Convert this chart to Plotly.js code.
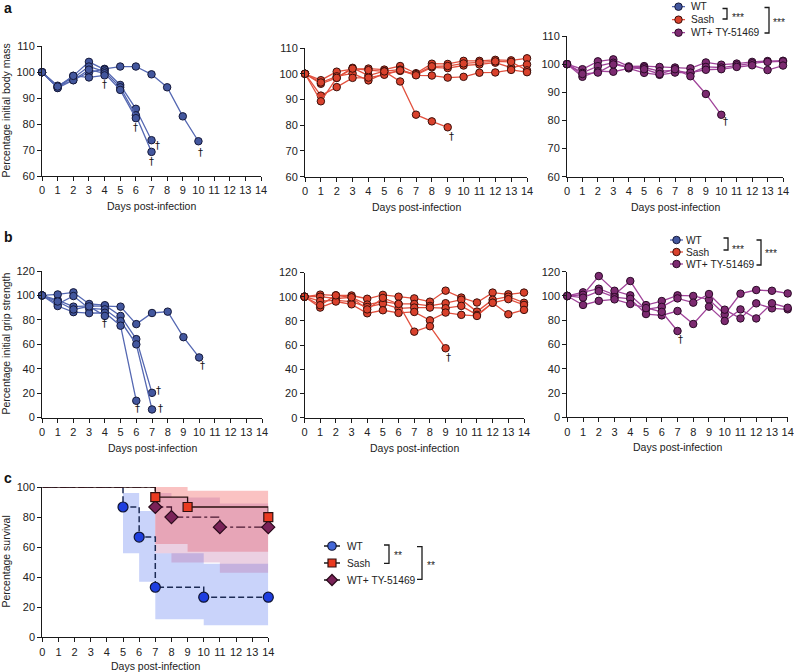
<!DOCTYPE html>
<html><head><meta charset="utf-8">
<script src="https://cdn.plot.ly/plotly-3.0.1.min.js"></script>
<style>html,body{margin:0;padding:0;background:#fff}#chart{width:794px;height:672px}</style>
</head><body><div id="chart"></div>
<script>
// ---------------- DATA ----------------
const days = [0,1,2,3,4,5,6,7,8,9,10,11,12,13,14];
const groupNames = ['WT', 'Sash', 'WT+ TY-51469'];

// a: percentage initial body mass (one array per mouse)
const massWT = [
  [100, 94.5, 97.0, 99.9, 101.3, 102.2, 102.2, 99.2, 94.2, 83.0, 73.4],
  [100, 94.0, 98.6, 104.0, 101.0, 95.1, 85.9, 73.8],
  [100, 94.8, 97.8, 102.2, 100.3, 94.2, 83.4, 69.3],
  [100, 93.9, 96.9, 101.0, 99.6, 93.2, 82.3],
  [100, 94.5, 98.6, 98.0, 98.8]
];
const massSash = [
  [100, 97.5, 100.8, 101.8, 102.0, 101.6, 103.0, 100.2, 103.9, 103.8, 105.0, 105.0, 105.4, 105.2, 106.0],
  [100, 96.1, 98.4, 102.3, 99.3, 101.0, 101.6, 99.6, 102.5, 102.2, 103.2, 103.6, 104.3, 102.4, 103.6],
  [100, 96.6, 99.0, 100.1, 97.4, 100.1, 101.1, 99.9, 102.9, 103.0, 104.0, 104.4, 104.8, 104.6, 101.3],
  [100, 91.5, 94.8, 98.4, 98.5, 99.6, 101.3, 99.4, 99.3, 98.5, 98.8, 100.4, 100.5, 101.5, 100.6],
  [100, 89.3, 98.4, 102.0, 101.4, 100.9, 97.0, 84.1, 81.5, 79.2]
];
const massTY = [
  [100, 98.2, 101.0, 101.7, 99.2, 99.3, 99.0, 98.8, 98.5, 100.6, 99.8, 100.2, 100.8, 101.1, 101.2],
  [100, 96.9, 99.3, 100.5, 98.7, 98.8, 97.5, 97.8, 96.8, 99.0, 98.8, 99.6, 100.3, 100.8, 101.0],
  [100, 95.5, 97.5, 97.3, 98.5, 96.9, 96.2, 97.0, 97.0, 98.0, 98.2, 99.0, 99.6, 97.9, 99.5],
  [100, 96.5, 97.0, 99.9, 98.9, 98.2, 96.5, 98.2, 95.7, 89.4, 82.0]
];

// b: percentage initial grip strength
const gripWT = [
  [100, 96.2, 90.8, 91.5, 91.3, 90.8, 76.5, 85.6, 86.7, 65.8, 49.2],
  [100, 100.8, 102.5, 93.0, 92.0, 83.2, 64.2, 20.2],
  [100, 93.0, 99.5, 89.3, 88.6, 79.0, 59.9, 6.6],
  [100, 91.3, 86.3, 85.5, 85.8, 75.2, 13.7],
  [100, 95.0, 88.5, 91.0, 83.2]
];
const gripSash = [
  [100, 101.7, 101.1, 101.0, 98.3, 101.5, 100.0, 98.6, 95.9, 105.0, 99.3, 95.2, 103.4, 102.0, 103.4],
  [100, 100.0, 98.5, 99.5, 93.5, 96.0, 94.0, 94.0, 92.4, 94.6, 97.5, 87.7, 97.5, 100.0, 95.0],
  [100, 96.4, 97.0, 95.9, 91.5, 94.3, 90.3, 91.0, 91.0, 90.5, 92.4, 85.0, 95.0, 98.0, 93.2],
  [100, 91.0, 96.0, 93.7, 86.3, 88.8, 86.6, 87.4, 80.5, 86.9, 85.0, 84.1, 95.0, 85.5, 89.1],
  [100, 93.0, 101.1, 99.5, 89.5, 99.0, 94.0, 71.1, 75.6, 57.4]
];
const gripTY = [
  [100, 103.0, 106.0, 101.0, 112.3, 92.5, 95.8, 100.5, 100.0, 97.0, 84.8, 101.9, 104.9, 104.3, 102.1],
  [100, 101.0, 116.4, 104.3, 100.5, 89.0, 91.0, 98.0, 94.5, 101.6, 88.7, 81.5, 93.9, 89.8, 89.0],
  [100, 98.6, 104.0, 99.0, 97.7, 85.1, 84.0, 87.6, 76.9, 91.2, 79.4, 88.9, 81.5, 94.0, 90.3],
  [100, 92.6, 96.0, 97.2, 93.4, 90.0, 86.9, 71.1]
];

// death markers (day, value) per panel
const deathsMassWT = [[4, 95.3], [6, 78.6], [7.4, 71.6], [7, 65.6], [10.15, 69.2]];
const deathsMassSash = [[9.26, 75.6]];
const deathsMassTY = [[10.3, 79.6]];
const deathsGripWT = [[4.0, 77.1], [6.1, 7.4], [7.43, 22.4], [7.54, 7.4], [10.2, 42.4]];
const deathsGripSash = [[9.2, 49.9]];
const deathsGripTY = [[7.2, 64.5]];

// c: Kaplan-Meier survival
const kmDaysWT = [0, 5, 6, 7, 10, 14];
const kmWT = [100, 86.7, 66.7, 33.3, 26.7, 26.7];
const kmDaysSash = [0, 7, 9, 14];
const kmSash = [100, 93.3, 86.7, 80.0];
const kmDaysTY = [0, 7, 8, 11, 14];
const kmTY = [100, 86.7, 80.0, 73.3, 73.3];
// 95% confidence bands
const ciDaysWT = [5, 6, 7, 10, 14];
const ciUpWT = [96, 84, 56, 49, 49];
const ciLoWT = [56, 37, 12, 8, 8];
const ciDaysSash = [7, 9, 14];
const ciUpSash = [100, 97.5, 97.5];
const ciLoSash = [62, 57, 57];
const ciDaysTY = [7, 8, 11, 14];
const ciUpTY = [96, 93, 89, 89];
const ciLoTY = [56, 49.7, 43, 43];

// ---------------- LAYOUT HELPERS ----------------
const W = 794, H = 672;
const FONT = 'Liberation Sans, Arial, Helvetica, sans-serif';
const px = v => v / W;
const py = v => 1 - v / H;

const common = {
  showline: true, linecolor: '#1a1a1a', linewidth: 1,
  ticks: 'outside', ticklen: 4, tickwidth: 1, tickcolor: '#1a1a1a',
  showgrid: false, zeroline: false, fixedrange: true,
  tickfont: {family: FONT, size: 11, color: '#222'}
};
function xa(l, r, anchor) {
  return Object.assign({}, common, {domain: [px(l), px(r)], range: [0, 14], dtick: 1, tick0: 0, anchor: anchor});
}
function ya(t, b, range, dtick, anchor) {
  return Object.assign({}, common, {domain: [py(b), py(t)], range: range, dtick: dtick, tick0: 0, anchor: anchor});
}
function hidden(domain, range, anchor) {
  return {domain: domain, range: range, visible: false, fixedrange: true, anchor: anchor};
}

const colors = {
  WT:   {line: '#5568b2', fill: '#43579e', edge: '#15193a'},
  Sash: {line: '#e2513f', fill: '#d9412c', edge: '#3a0f0a'},
  TY:   {line: '#a0449a', fill: '#7c2a70', edge: '#2a0a26'}
};

const panels = [
  {xa: 'x',  ya: 'y',  l: 42,    r: 261,   t: 46.3,  b: 176,   range: [60, 110], dtick: 10, data: massWT,   c: colors.WT,   deaths: deathsMassWT},
  {xa: 'x2', ya: 'y2', l: 305,   r: 527,   t: 48,    b: 176.7, range: [60, 110], dtick: 10, data: massSash, c: colors.Sash, deaths: deathsMassSash},
  {xa: 'x3', ya: 'y3', l: 567,   r: 783,   t: 36,    b: 176.7, range: [60, 110], dtick: 10, data: massTY,   c: colors.TY,   deaths: deathsMassTY},
  {xa: 'x4', ya: 'y4', l: 42,    r: 262,   t: 271,   b: 417.5, range: [0, 120],  dtick: 20, data: gripWT,   c: colors.WT,   deaths: deathsGripWT},
  {xa: 'x5', ya: 'y5', l: 304.5, r: 524,   t: 272.5, b: 417.7, range: [0, 120],  dtick: 20, data: gripSash, c: colors.Sash, deaths: deathsGripSash},
  {xa: 'x6', ya: 'y6', l: 567.3, r: 787.7, t: 271.7, b: 417.3, range: [0, 120],  dtick: 20, data: gripTY,   c: colors.TY,   deaths: deathsGripTY}
];
const panelC = {xa: 'x7', ya: 'y7', l: 42.3, r: 268.3, t: 487, b: 637.3};

const layout = {
  width: W, height: H, margin: {l: 0, r: 0, t: 0, b: 0},
  paper_bgcolor: '#fff', plot_bgcolor: 'rgba(0,0,0,0)',
  showlegend: false, hovermode: false,
  font: {family: FONT, size: 11, color: '#222'},
  annotations: [], shapes: []
};

const traces = [];
const axName = (s) => s === 'x' ? 'xaxis' : s === 'y' ? 'yaxis' : (s[0] + 'axis' + s.slice(1));

panels.forEach(p => {
  layout[axName(p.xa)] = xa(p.l, p.r, p.ya);
  layout[axName(p.ya)] = ya(p.t, p.b, p.range, p.dtick, p.xa);
  p.data.forEach(series => {
    traces.push({
      x: days.slice(0, series.length), y: series, xaxis: p.xa, yaxis: p.ya,
      type: 'scatter', mode: 'lines+markers', cliponaxis: false, hoverinfo: 'skip',
      line: {color: p.c.line, width: 1.3},
      marker: {color: p.c.fill, size: 7.5, line: {color: p.c.edge, width: 1}}
    });
  });
  p.deaths.forEach(d => {
    layout.annotations.push({x: d[0], y: d[1], xref: p.xa, yref: p.ya, text: '†', showarrow: false,
      font: {family: 'DejaVu Sans, ' + FONT, size: 10, color: '#111'}, xanchor: 'center', yanchor: 'middle'});
  });
  layout.annotations.push({x: px((p.l + p.r) / 2), y: py(p.b + 30), xref: 'paper', yref: 'paper',
    text: 'Days post-infection', showarrow: false, font: {family: FONT, size: 10.5, color: '#222'},
    xanchor: 'center', yanchor: 'middle'});
});

// panel c axes
layout.xaxis7 = xa(panelC.l, panelC.r, 'y7');
layout.yaxis7 = ya(panelC.t, panelC.b, [0, 100], 20, 'x7');
layout.annotations.push({x: px((panelC.l + panelC.r) / 2), y: py(665.5), xref: 'paper', yref: 'paper',
  text: 'Days post-infection', showarrow: false, font: {family: FONT, size: 10.5, color: '#222'},
  xanchor: 'center', yanchor: 'middle'});

// y titles
[['Percentage initial body mass', 111], ['Percentage initial grip strength', 344], ['Percentage survival', 562]].forEach(t => {
  layout.annotations.push({x: px(5.5), y: py(t[1]), xref: 'paper', yref: 'paper', text: t[0], textangle: -90,
    showarrow: false, font: {family: FONT, size: 10.5, color: '#222'}, xanchor: 'center', yanchor: 'middle'});
});
// panel letters
[['a', 8], ['b', 237], ['c', 478]].forEach(t => {
  layout.annotations.push({x: px(2), y: py(t[1]), xref: 'paper', yref: 'paper', text: '<b>' + t[0] + '</b>',
    showarrow: false, font: {family: FONT, size: 14, color: '#111'}, xanchor: 'left', yanchor: 'middle'});
});

// ----- panel c: confidence bands -----
function band(dx, up, lo, fillcolor) {
  traces.push({x: dx, y: up, xaxis: 'x7', yaxis: 'y7', type: 'scatter', mode: 'lines',
    line: {width: 0, shape: 'hv'}, hoverinfo: 'skip'});
  traces.push({x: dx, y: lo, xaxis: 'x7', yaxis: 'y7', type: 'scatter', mode: 'lines', fill: 'tonexty',
    fillcolor: fillcolor, line: {width: 0, shape: 'hv'}, hoverinfo: 'skip'});
}
band(ciDaysWT, ciUpWT, ciLoWT, 'rgba(100,130,240,0.35)');
band(ciDaysSash, ciUpSash, ciLoSash, 'rgba(240,80,80,0.35)');
band(ciDaysTY, ciUpTY, ciLoTY, 'rgba(190,100,160,0.30)');

const km = [
  {dx: kmDaysWT, v: kmWT, line: {color: '#1c2b55', width: 1.5, dash: '6px,3px', shape: 'hv'},
   marker: {symbol: 'circle', size: 10, color: '#1e3ee0', line: {color: '#101535', width: 1.2}}},
  {dx: kmDaysTY, v: kmTY, line: {color: '#4a1832', width: 1.3, dash: 'dashdot', shape: 'hv'},
   marker: {symbol: 'diamond', size: 10, color: '#7a2258', line: {color: '#2a0a1a', width: 1.2}}},
  {dx: kmDaysSash, v: kmSash, line: {color: '#2a1010', width: 1.3, shape: 'hv'},
   marker: {symbol: 'square', size: 9, color: '#ea3a20', line: {color: '#301010', width: 1.2}}}
];
km.forEach(k => {
  traces.push({x: k.dx, y: k.v, xaxis: 'x7', yaxis: 'y7', type: 'scatter', mode: 'lines',
    line: k.line, cliponaxis: false, hoverinfo: 'skip'});
});
km.forEach(k => {
  traces.push({x: k.dx.slice(1), y: k.v.slice(1), xaxis: 'x7', yaxis: 'y7', type: 'scatter', mode: 'markers',
    marker: k.marker, cliponaxis: false, hoverinfo: 'skip'});
});

// ----- custom legends -----
const LEGFONT = 10.2;
const legends = [
  {xa: 'x8', ya: 'y8', l: 672, r: 685, top: 6.7, step: 13.0, textGap: 4,
   lines: [colors.WT.line, colors.Sash.line, colors.TY.line],
   markers: [{symbol: 'circle', size: 7.5, color: colors.WT.fill, line: {color: colors.WT.edge, width: 1}},
             {symbol: 'circle', size: 7.5, color: colors.Sash.fill, line: {color: colors.Sash.edge, width: 1}},
             {symbol: 'circle', size: 7.5, color: colors.TY.fill, line: {color: colors.TY.edge, width: 1}}],
   brackets: [[722.5, 727, 8.5, 19, 729.5, 17.5, '***'], [764.5, 769, 7.5, 33, 771, 22.5, '***']]},
  {xa: 'x9', ya: 'y9', l: 670, r: 683, top: 240, step: 12.0, textGap: 1,
   lines: [colors.WT.line, colors.Sash.line, colors.TY.line],
   markers: [{symbol: 'circle', size: 7.5, color: colors.WT.fill, line: {color: colors.WT.edge, width: 1}},
             {symbol: 'circle', size: 7.5, color: colors.Sash.fill, line: {color: colors.Sash.edge, width: 1}},
             {symbol: 'circle', size: 7.5, color: colors.TY.fill, line: {color: colors.TY.edge, width: 1}}],
   brackets: [[723.5, 728, 238, 250, 730, 249, '***'], [756.5, 761, 240, 265, 763, 253.5, '***']]},
  {xa: 'x10', ya: 'y10', l: 324, r: 340, top: 546, step: 17.0, textGap: 5,
   lines: ['#1a1a1a', '#1a1a1a', '#1a1a1a'],
   markers: [{symbol: 'circle', size: 8.5, color: '#4468d8', line: {color: '#101535', width: 1.2}},
             {symbol: 'square', size: 8, color: '#ea3a20', line: {color: '#301010', width: 1.2}},
             {symbol: 'diamond', size: 8.5, color: '#7a2258', line: {color: '#2a0a1a', width: 1.2}}],
   brackets: [[384, 389, 545, 563.3, 392, 555.5, '**'], [417, 422, 546.7, 579.3, 425.5, 565, '**']]}
];
legends.forEach(L => {
  const topPx = L.top - L.step / 2, botPx = L.top + 2.5 * L.step;
  layout[axName(L.xa)] = hidden([px(L.l), px(L.r)], [0, 1], L.ya);
  layout[axName(L.ya)] = hidden([py(botPx), py(topPx)], [2.5, -0.5], L.xa);
  groupNames.forEach((name, i) => {
    traces.push({x: [0, 1], y: [i, i], xaxis: L.xa, yaxis: L.ya, type: 'scatter', mode: 'lines',
      line: {color: L.lines[i], width: 1.3}, cliponaxis: false, hoverinfo: 'skip'});
    traces.push({x: [0.5], y: [i], xaxis: L.xa, yaxis: L.ya, type: 'scatter', mode: 'markers',
      marker: L.markers[i], cliponaxis: false, hoverinfo: 'skip'});
    layout.annotations.push({x: px(L.r + L.textGap), y: i, xref: 'paper', yref: L.ya, text: name,
      showarrow: false, xanchor: 'left', yanchor: 'middle', font: {family: FONT, size: LEGFONT, color: '#222'}});
  });
  L.brackets.forEach(b => {
    layout.shapes.push({type: 'path', xref: 'paper', yref: 'paper',
      path: `M ${px(b[0])} ${py(b[2])} L ${px(b[1])} ${py(b[2])} L ${px(b[1])} ${py(b[3])} L ${px(b[0])} ${py(b[3])}`,
      line: {color: '#1a1a1a', width: 1.3}});
    layout.annotations.push({x: px(b[4]), y: py(b[5]), xref: 'paper', yref: 'paper', text: b[6],
      showarrow: false, xanchor: 'left', yanchor: 'middle', font: {family: FONT, size: LEGFONT, color: '#222'}});
  });
});

Plotly.newPlot('chart', traces, layout, {staticPlot: true, displayModeBar: false});
</script>
</body></html>
